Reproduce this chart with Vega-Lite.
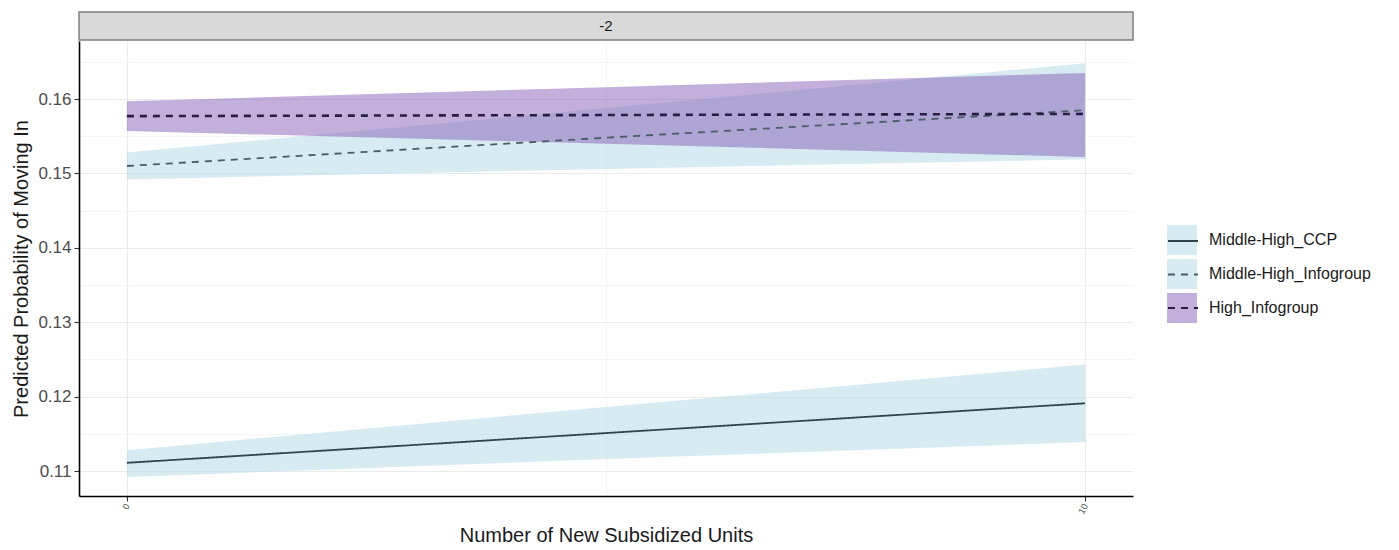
{
  "$schema": "https://vega.github.io/schema/vega-lite/v6.json",
  "background": "white",
  "padding": {"left": 11, "top": 11, "right": 5, "bottom": 5},
  "spacing": 0,
  "config": {
    "font": "Liberation Sans",
    "view": {"stroke": null},
    "axis": {
      "domainColor": "#000000",
      "domainWidth": 1.6,
      "tickColor": "#333333",
      "tickSize": 5,
      "tickWidth": 1.1,
      "labelColor": "#4d4d4d",
      "labelFont": "Liberation Sans",
      "titleFont": "Liberation Sans",
      "titleFontSize": 20,
      "titleFontWeight": "normal",
      "titleColor": "#1a1a1a",
      "gridWidth": 1.1
    }
  },
  "datasets": {
    "bands": [
      {"group": "Middle-High_CCP", "units": 0, "fit": 0.1111, "lower": 0.1092, "upper": 0.1128},
      {"group": "Middle-High_CCP", "units": 5, "fit": 0.1151, "lower": 0.1116, "upper": 0.1186},
      {"group": "Middle-High_CCP", "units": 10, "fit": 0.1191, "lower": 0.1139, "upper": 0.1243},
      {"group": "Middle-High_Infogroup", "units": 0, "fit": 0.1510, "lower": 0.1492, "upper": 0.1528},
      {"group": "Middle-High_Infogroup", "units": 5, "fit": 0.1548, "lower": 0.1506, "upper": 0.1588},
      {"group": "Middle-High_Infogroup", "units": 10, "fit": 0.1585, "lower": 0.1519, "upper": 0.1648},
      {"group": "High_Infogroup", "units": 0, "fit": 0.1577, "lower": 0.1557, "upper": 0.1597},
      {"group": "High_Infogroup", "units": 5, "fit": 0.15785, "lower": 0.1540, "upper": 0.1616},
      {"group": "High_Infogroup", "units": 10, "fit": 0.1580, "lower": 0.1522, "upper": 0.1635}
    ]
  },
  "vconcat": [
    {
      "width": 1054,
      "height": 28,
      "data": {"values": [{"panel": "-2"}]},
      "view": {"fill": "#d9d9d9", "stroke": "#7f7f7f", "strokeWidth": 1.5},
      "mark": {"type": "text", "fontSize": 15, "color": "#1a1a1a", "font": "Liberation Sans"},
      "encoding": {"text": {"field": "panel", "type": "nominal"}}
    },
    {
      "width": 1054,
      "height": 455,
      "data": {"name": "bands"},
      "encoding": {
        "x": {
          "field": "units",
          "type": "quantitative",
          "title": "Number of New Subsidized Units",
          "scale": {"domain": [-0.5, 10.5], "nice": false, "zero": false},
          "axis": {
            "values": [0, 5, 10],
            "labelExpr": "datum.value == 5 ? '' : datum.label",
            "tickOpacity": {"condition": {"test": "datum.value == 5", "value": 0}, "value": 1},
            "gridColor": {"condition": {"test": "datum.value == 5", "value": "#f0f0f0"}, "value": "#ebebeb"},
            "gridWidth": {"condition": {"test": "datum.value == 5", "value": 0.7}, "value": 1.1},
            "labelAngle": -60,
            "labelAlign": "right",
            "labelBaseline": "middle",
            "labelFontSize": 9,
            "labelPadding": 3,
            "titlePadding": 10
          }
        }
      },
      "layer": [
        {
          "transform": [{"filter": "datum.group !== 'High_Infogroup'"}],
          "mark": {"type": "area", "opacity": 0.5},
          "encoding": {
            "y": {
              "field": "lower",
              "type": "quantitative",
              "title": "Predicted Probability of Moving In",
              "scale": {"domain": [0.10664, 0.1678], "nice": false, "zero": false},
              "axis": {
                "values": [0.11, 0.115, 0.12, 0.125, 0.13, 0.135, 0.14, 0.145, 0.15, 0.155, 0.16, 0.165],
                "labelExpr": "abs(round(datum.value*200)%2) == 1 ? '' : format(datum.value, '.2f')",
                "tickOpacity": {"condition": {"test": "abs(round(datum.value*200)%2) == 1", "value": 0}, "value": 1},
                "gridColor": {"condition": {"test": "abs(round(datum.value*200)%2) == 1", "value": "#f0f0f0"}, "value": "#ebebeb"},
                "gridWidth": {"condition": {"test": "abs(round(datum.value*200)%2) == 1", "value": 0.7}, "value": 1.1},
                "labelFontSize": 17,
                "labelPadding": 3,
                "titlePadding": 6
              }
            },
            "y2": {"field": "upper"},
            "fill": {
              "field": "group",
              "type": "nominal",
              "sort": ["Middle-High_CCP", "Middle-High_Infogroup", "High_Infogroup"],
              "scale": {"range": ["#add8e6", "#add8e6", "#8760b8"]},
              "legend": {
                "orient": "none",
                "legendX": 1088,
                "legendY": 213,
                "title": null,
                "symbolType": "square",
                "symbolSize": 900,
                "symbolStrokeWidth": 0,
                "symbolOpacity": 0.5,
                "labelFontSize": 16,
                "labelColor": "#1a1a1a",
                "labelFont": "Liberation Sans",
                "labelLimit": 400,
                "rowPadding": 4,
                "labelOffset": 12,
                "zindex": 1
              }
            }
          }
        },
        {
          "transform": [{"filter": "datum.group === 'High_Infogroup'"}],
          "mark": {"type": "area", "opacity": 0.5},
          "encoding": {
            "y": {"field": "lower", "type": "quantitative"},
            "y2": {"field": "upper"},
            "fill": {"field": "group", "type": "nominal", "sort": ["Middle-High_CCP", "Middle-High_Infogroup", "High_Infogroup"]}
          }
        },
        {
          "transform": [{"filter": "datum.group !== 'High_Infogroup'"}],
          "mark": {"type": "line", "strokeWidth": 1.8},
          "encoding": {
            "y": {"field": "fit", "type": "quantitative"},
            "stroke": {
              "field": "group",
              "type": "nominal",
              "scale": {
                "domain": ["Middle-High_CCP", "Middle-High_Infogroup", "High_Infogroup"],
                "range": ["#2f4650", "#4b5d69", "#2a1d44"]
              },
              "legend": {
                "orient": "none",
                "legendX": 1088,
                "legendY": 213,
                "title": null,
                "symbolType": "stroke",
                "symbolSize": 900,
                "symbolStrokeWidth": 1.8,
                "labelFontSize": 14,
                "labelExpr": "''",
                "rowPadding": 10.5,
                "labelOffset": 12,
                "zindex": 2
              }
            },
            "strokeDash": {
              "field": "group",
              "type": "nominal",
              "scale": {
                "domain": ["Middle-High_CCP", "Middle-High_Infogroup", "High_Infogroup"],
                "range": [[1, 0], [7, 6], [7, 6]]
              }
            }
          }
        },
        {
          "transform": [{"filter": "datum.group === 'High_Infogroup'"}],
          "mark": {"type": "line", "strokeWidth": 2.6},
          "encoding": {
            "y": {"field": "fit", "type": "quantitative"},
            "stroke": {"field": "group", "type": "nominal"},
            "strokeDash": {"field": "group", "type": "nominal"}
          }
        }
      ]
    }
  ]
}
